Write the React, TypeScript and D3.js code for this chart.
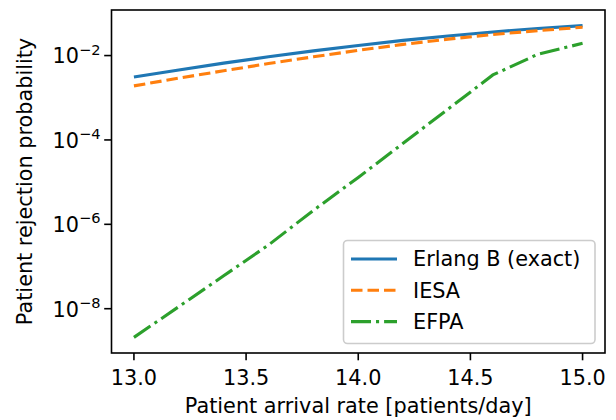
import React from 'react';
import * as d3 from 'd3';

// arrival rates (patients/day)
const rates = [13.0, 13.2, 13.4, 13.6, 13.8, 14.0, 14.2, 14.4, 14.6, 14.8, 15.0];
// rejection probabilities
const erlangB = [3.09e-3, 4.57e-3, 6.61e-3, 9.33e-3, 1.29e-2, 1.74e-2, 2.29e-2, 2.92e-2, 3.63e-2, 4.37e-2, 5.13e-2];
const iesa = [1.91e-3, 2.92e-3, 4.37e-3, 6.46e-3, 9.33e-3, 1.33e-2, 1.84e-2, 2.45e-2, 3.16e-2, 3.89e-2, 4.68e-2];
const efpa = [2.09e-9, 1.12e-8, 6.03e-8, 3.24e-7, 2.14e-6, 1.29e-5, 8.32e-5, 5.37e-4, 3.47e-3, 1.07e-2, 1.95e-2];

const xTicks = [13.0, 13.5, 14.0, 14.5, 15.0];
const yTicks = [1e-2, 1e-4, 1e-6, 1e-8];
const yTickExps = ['−2', '−4', '−6', '−8'];

const seriesNames = ['Erlang B (exact)', 'IESA', 'EFPA'];
const seriesValues = [erlangB, iesa, efpa];
const colors = ['#1f77b4', '#ff7f0e', '#2ca02c'];
const dashes = ['none', '11.5,5', '20,5,3.1,5'];

const W = 616;
const H = 420;
const left = 111.5;
const right = 605;
const top = 10;
const bottom = 353;
const font = 'DejaVu Sans, sans-serif';
const fs = 20.8;

export default function App() {
  const x = d3.scaleLinear().domain([12.9, 15.1]).range([left, right]);
  const y = d3.scaleLog().domain([Math.pow(10, -9.05), Math.pow(10, -0.92)]).range([bottom, top]);

  const line = d3.line<[number, number]>()
    .x(d => x(d[0]))
    .y(d => y(d[1]));

  const legX = 343.5, legY = 240.5, legW = 251.5, legH = 103;

  return (
    <svg width={W} height={H} style={{ position: 'absolute', left: 0, top: 0 }} fontFamily={font}>
      <rect width={W} height={H} fill="#fff" />

      {seriesValues.map((vals, i) => (
        <path
          key={seriesNames[i]}
          d={line(rates.map((r, j) => [r, vals[j]] as [number, number])) || ''}
          fill="none"
          stroke={colors[i]}
          strokeWidth={3.1}
          strokeDasharray={dashes[i]}
        />
      ))}

      {/* spines */}
      <rect x={left} y={top} width={right - left} height={bottom - top} fill="none" stroke="#000" strokeWidth={1.6} />

      {/* x axis */}
      {xTicks.map(t => (
        <g key={t} transform={`translate(${x(t)},${bottom})`}>
          <line y1={0} y2={7.3} stroke="#000" strokeWidth={1.6} />
          <text y={31.5} textAnchor="middle" fontSize={fs}>{t.toFixed(1)}</text>
        </g>
      ))}
      <text x={(left + right) / 2} y={413} textAnchor="middle" fontSize={fs}>
        Patient arrival rate [patients/day]
      </text>

      {/* y axis */}
      {yTicks.map((t, i) => (
        <g key={t} transform={`translate(${left},${y(t)})`}>
          <line x1={0} x2={-7.3} stroke="#000" strokeWidth={1.6} />
          <text x={-11} y={7.8} textAnchor="end" fontSize={fs}>
            10<tspan dy={-8.8} fontSize={14.6}>{yTickExps[i]}</tspan>
          </text>
        </g>
      ))}
      <text
        transform={`translate(32,${(top + bottom) / 2}) rotate(-90)`}
        textAnchor="middle"
        fontSize={fs}
      >
        Patient rejection probability
      </text>

      {/* legend */}
      <rect x={legX} y={legY} width={legW} height={legH} rx={4} fill="#fff" fillOpacity={0.8} stroke="#cccccc" strokeWidth={1.6} />
      {seriesNames.map((name, i) => {
        const ry = 259 + i * 31.3;
        return (
          <g key={name}>
            <line x1={351} x2={397} y1={ry} y2={ry} stroke={colors[i]} strokeWidth={3.1} strokeDasharray={dashes[i]} />
            <text x={413} y={ry + 7.4} fontSize={fs}>{name}</text>
          </g>
        );
      })}
    </svg>
  );
}
